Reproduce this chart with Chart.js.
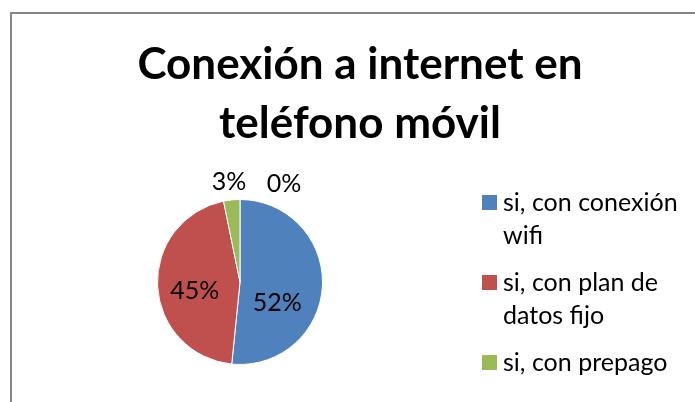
<!DOCTYPE html>
<html lang="es">
<head>
<meta charset="UTF-8">
<title>Conexión a internet en teléfono móvil</title>
<script src="https://cdn.jsdelivr.net/npm/chart.js"></script>
<style>
  html, body { margin: 0; padding: 0; background: #fff; overflow: hidden; }
  #wrap { position: relative; width: 695px; height: 402px; }
</style>
</head>
<body>
<div id="wrap"><canvas id="pieChart" width="695" height="402"></canvas></div>
<script>
// Chart data
const titleLines = ['Conexión a internet en', 'teléfono móvil'];
const categories = ['si, con conexión wifi', 'si, con plan de datos fijo', 'si, con prepago', 'no'];
const values = [51.6, 45.2, 3.2, 0];

// Styles
const sliceColors = ['#4F81BD', '#C0504D', '#9BBB59', '#8064A2'];
const fontFamily = "Lato, 'Open Sans', sans-serif";
// nudges for the percentage labels (Excel "best fit" placement)
const labelShift = [[-4, 18], [-4, 6], [-1, -1], [44, 2]];

// frame + white background
const framePlugin = {
    id: 'frame',
    beforeDraw(chart) {
        const ctx = chart.ctx;
        ctx.save();
        ctx.fillStyle = '#fff';
        ctx.fillRect(0, 0, chart.width, chart.height);
        ctx.strokeStyle = '#868686';
        ctx.lineWidth = 2;
        ctx.strokeRect(11, 13, 700, 500);
        ctx.restore();
    }
};

// two-line bold title
const titlePlugin = {
    id: 'bigTitle',
    afterDraw(chart) {
        const ctx = chart.ctx;
        ctx.save();
        ctx.fillStyle = '#000';
        ctx.font = 'bold 44px ' + fontFamily;
        ctx.textAlign = 'center';
        ctx.textBaseline = 'alphabetic';
        titleLines.forEach((line, i) => ctx.fillText(line, 360, 79 + i * 59));
        ctx.restore();
    }
};

// percentage labels on the slices
const pctPlugin = {
    id: 'pctLabels',
    afterDatasetsDraw(chart) {
        const ctx = chart.ctx;
        const meta = chart.getDatasetMeta(0);
        const data = chart.data.datasets[0].data;
        const total = data.reduce((a, b) => a + b, 0);
        const size = 25;
        ctx.save();
        ctx.fillStyle = '#000';
        ctx.font = size + 'px ' + fontFamily;
        ctx.textAlign = 'center';
        ctx.textBaseline = 'alphabetic';
        meta.data.forEach((arc, i) => {
            const p = arc.getProps(['x', 'y', 'startAngle', 'endAngle', 'outerRadius'], true);
            const mid = (p.startAngle + p.endAngle) / 2;
            const pct = data[i] / total * 100;
            const dist = pct >= 10 ? p.outerRadius * 0.5 : p.outerRadius * 1.22;
            const x = p.x + Math.cos(mid) * dist + labelShift[i][0];
            const y = p.y + Math.sin(mid) * dist + labelShift[i][1];
            ctx.fillText(Math.round(pct) + '%', x, y + size * 0.36);
        });
        ctx.restore();
    }
};

// legend on the right, with word wrap
const legendPlugin = {
    id: 'wrapLegend',
    afterDraw(chart) {
        const ctx = chart.ctx;
        const size = 25;
        const maxWidth = 185;
        ctx.save();
        ctx.font = size + 'px ' + fontFamily;
        ctx.textBaseline = 'alphabetic';
        ctx.textAlign = 'left';
        let y = 211;
        chart.data.labels.forEach((label, i) => {
            // split into lines
            const words = label.split(' ');
            const lines = [];
            let cur = '';
            words.forEach(w => {
                const test = cur ? cur + ' ' + w : w;
                if (ctx.measureText(test).width > maxWidth && cur) {
                    lines.push(cur);
                    cur = w;
                } else {
                    cur = test;
                }
            });
            lines.push(cur);

            ctx.fillStyle = chart.data.datasets[0].backgroundColor[i];
            ctx.fillRect(482, y - 16, 15, 15);
            ctx.fillStyle = '#000';
            lines.forEach((line, j) => ctx.fillText(line, 503, y + j * 32.5));
            y += (lines.length - 1) * 32.5 + 47.5;
        });
        ctx.restore();
    }
};

new Chart(document.getElementById('pieChart'), {
    type: 'pie',
    data: {
        labels: categories,
        datasets: [{
            data: values,
            backgroundColor: sliceColors,
            borderColor: '#fff',
            borderWidth: 1
        }]
    },
    options: {
        responsive: false,
        animation: false,
        layout: { padding: { left: 157, right: 372, top: 199, bottom: 37 } },
        plugins: {
            legend: { display: false },
            tooltip: { enabled: false },
            title: { display: false }
        }
    },
    plugins: [framePlugin, titlePlugin, pctPlugin, legendPlugin]
});
</script>
</body>
</html>
